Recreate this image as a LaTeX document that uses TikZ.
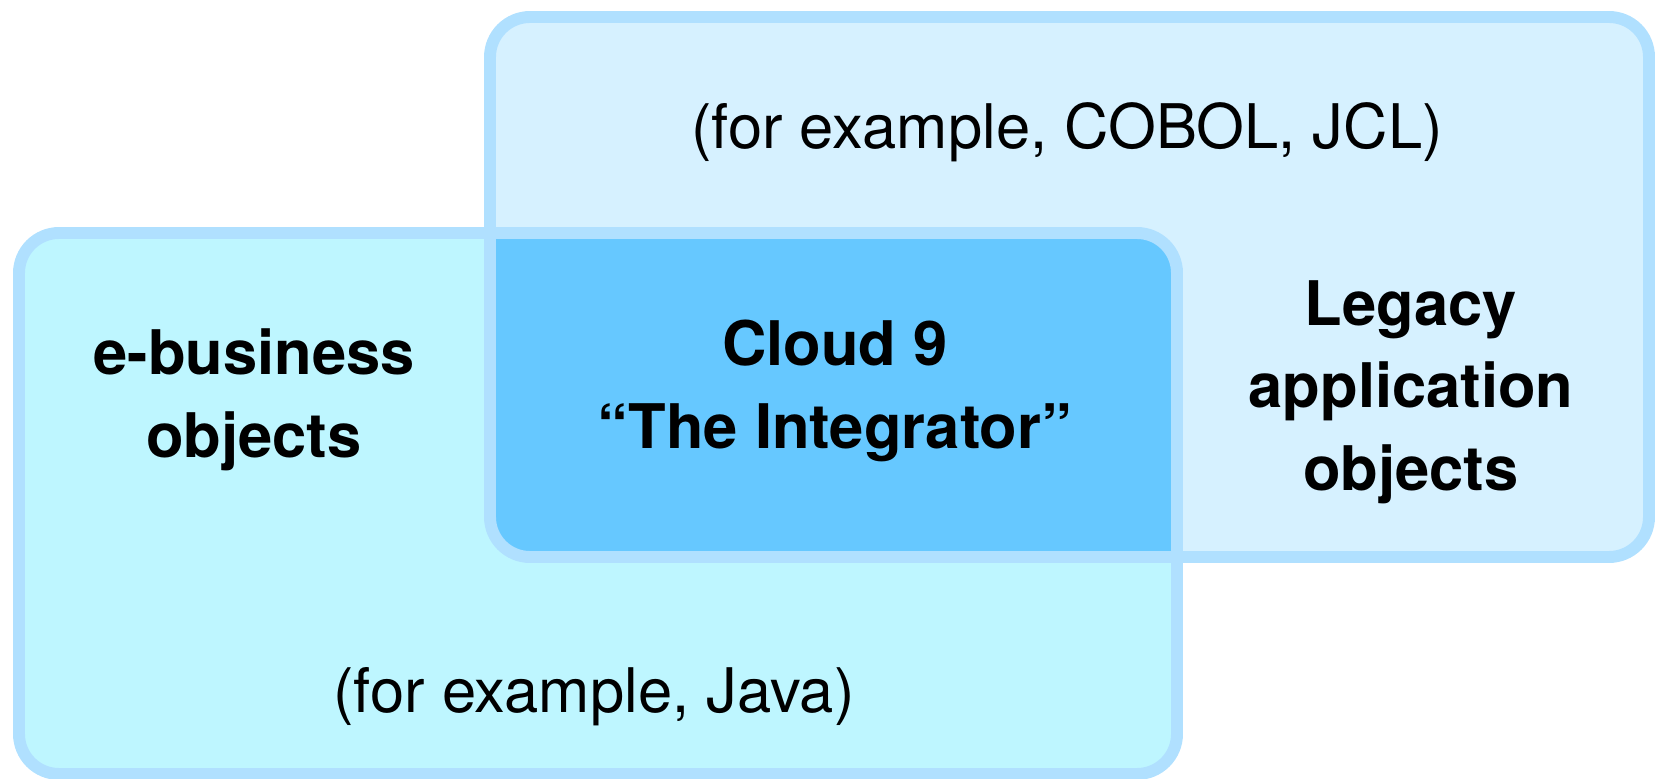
\documentclass[tikz,border=0pt]{standalone}
\usepackage{fontspec}
\setmainfont{TeX Gyre Heros}
\definecolor{rimblue}{RGB}{176,224,255}
\definecolor{coreblue}{RGB}{102,200,255}
\definecolor{webfill}{RGB}{190,246,255}
\definecolor{oldfill}{RGB}{214,241,255}

\begin{document}
\begin{tikzpicture}[x=0.02cm, y=0.02cm,
    box/.style={draw=rimblue, line width=6.8pt, rounded corners=0.8cm},
    plain/.style={font=\fontsize{35}{47}\selectfont, align=center},
    heavy/.style={font=\fontsize{35}{47}\selectfont\bfseries, align=center}]
    \useasboundingbox (0,0) rectangle (1657,778);

    % Fill the two areas
    \fill[webfill, rounded corners=0.8cm] (19,4) rectangle (1177,545);
    \fill[oldfill, rounded corners=0.8cm] (490,221) rectangle (1649,761);
    % Fill where they overlap
    \begin{scope}
        \clip[rounded corners=0.8cm] (19,4) rectangle (1177,545);
        \fill[coreblue, rounded corners=0.8cm] (490,221) rectangle (1649,761);
    \end{scope}

    % Draw the rims
    \draw[box] (19,4) rectangle (1177,545);
    \draw[box] (490,221) rectangle (1649,761);

    % Labels
    \node[plain] (legacyex) at (1067,646) {(for example, COBOL, JCL)};
    \node[heavy] (legacy) at (1411,386) {Legacy\\application\\objects};
    \node[heavy] (ebiz) at (254,378) {e-business\\objects};
    \node[heavy] (cloud) at (835,387) {Cloud 9\\“The Integrator”};
    \node[plain] (ebizex) at (594,81) {(for example, Java)};
\end{tikzpicture}
\end{document}
